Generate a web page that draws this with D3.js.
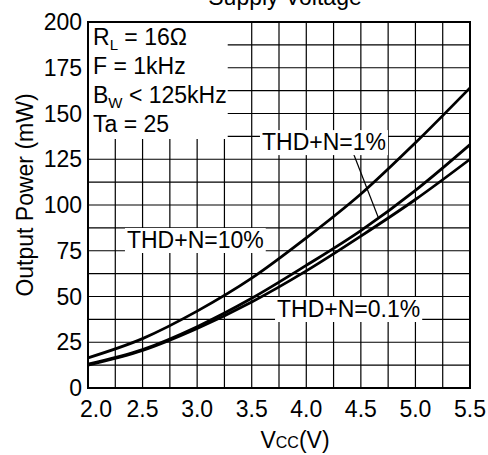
<!DOCTYPE html>
<html><head><meta charset="utf-8">
<script src="https://cdn.jsdelivr.net/npm/d3@7/dist/d3.min.js"></script>
<style>
html,body{margin:0;padding:0;background:#fff;}
svg{display:block;font-family:"Liberation Sans",Arial,sans-serif;}
</style></head>
<body>
<svg id="chart" width="488" height="455"></svg>
<script>
// ---- data ----
const volts  = [2.0, 2.5, 3.0, 3.5, 4.0, 4.5, 5.0, 5.5];
const thd10  = [16.5, 27, 42, 60, 82, 106, 134, 164];
const thd1   = [13, 21, 33.5, 49, 67, 86, 108, 133];
const thd01  = [12.5, 20.5, 32.5, 47, 64, 83, 103, 125];
const xTicks = [2.0, 2.5, 3.0, 3.5, 4.0, 4.5, 5.0, 5.5];
const yTicks = [0, 25, 50, 75, 100, 125, 150, 175, 200];
const xTickLabels = ["2.0","2.5","3.0","3.5","4.0","4.5","5.0","5.5"];
const curveLabels = [
  {text:"THD+N=10%", v:2.357, p:76.5},
  {text:"THD+N=1%",  v:3.594, p:130},
  {text:"THD+N=0.1%",v:3.732, p:38.8}
];
const leader = [{v:4.43, p:128.4},{v:4.658, p:93.4}];
const conditions = ["R|L| = 16Ω", "F = 1kHz", "B|W| < 125kHz", "Ta = 25"];

// ---- layout ----
const svg = d3.select("#chart");
const L = 88, R = 470, T = 22, B = 388;
const x = d3.scaleLinear().domain([2.0, 5.5]).range([L, R]);
const y = d3.scaleLinear().domain([0, 200]).range([B, T]);
const FS = 23;

// grid
const g = svg.append("g");
g.selectAll(".vg").data(d3.range(2.25, 5.5, 0.25)).join("line")
  .attr("x1", d=>x(d)).attr("x2", d=>x(d)).attr("y1", T).attr("y2", B)
  .attr("stroke", "#000").attr("stroke-width", 1.2);
g.selectAll(".hg").data(d3.range(12.5, 200, 12.5)).join("line")
  .attr("x1", L).attr("x2", R).attr("y1", d=>y(d)).attr("y2", d=>y(d))
  .attr("stroke", "#000").attr("stroke-width", 1.2);

// curves
const line = d3.line().x((d,i)=>x(volts[i])).y(d=>y(d)).curve(d3.curveMonotoneX);
[thd10, thd1, thd01].forEach(s=>{
  svg.append("path").attr("d", line(s)).attr("fill","none")
    .attr("stroke","#000").attr("stroke-width",2.8);
});

// leader line
svg.append("line")
  .attr("x1", x(leader[0].v)).attr("y1", y(leader[0].p))
  .attr("x2", x(leader[1].v)).attr("y2", y(leader[1].p))
  .attr("stroke","#000").attr("stroke-width",1.2);

// curve labels with white background
curveLabels.forEach(c=>{
  const gg = svg.append("g");
  const t = gg.append("text").attr("x", x(c.v)).attr("y", y(c.p))
    .attr("font-size", FS).text(c.text);
  const bb = t.node().getBBox();
  gg.insert("rect","text").attr("x", bb.x-2).attr("y", bb.y+1)
    .attr("width", bb.width+4).attr("height", bb.height-1).attr("fill","#fff");
});

// conditions box
const cg = svg.append("g");
const texts = [];
conditions.forEach((c,i)=>{
  const parts = c.split("|");
  const t = cg.append("text").attr("x", L+5).attr("y", T+23 + i*29).attr("font-size", FS);
  t.append("tspan").text(parts[0]);
  if (parts.length > 1) {
    t.append("tspan").attr("font-size", 15).attr("dy", 5).text(parts[1]);
    t.append("tspan").attr("dy", -5).text(parts[2]);
  }
  texts.push(t);
});
let maxR = 0;
texts.forEach(t=>{const b=t.node().getBBox(); maxR=Math.max(maxR,b.x+b.width);});
const lastB = texts[texts.length-1].node().getBBox();
cg.insert("rect","text").attr("x", L).attr("y", T)
  .attr("width", maxR - L + 1).attr("height", lastB.y + lastB.height - T + 2)
  .attr("fill","#fff");

// frame
svg.append("rect").attr("x", L).attr("y", T).attr("width", R-L).attr("height", B-T)
  .attr("fill","none").attr("stroke","#000").attr("stroke-width",2);

// y tick labels
svg.selectAll(".yl").data(yTicks).join("text")
  .attr("x", L-6).attr("y", d=>y(d)+8).attr("text-anchor","end")
  .attr("font-size", FS).text(d=>d);

// x tick labels
svg.selectAll(".xl").data(xTicks).join("text")
  .attr("x", (d,i)=>x(d) + (i===0 ? 8 : 0)).attr("y", 417).attr("text-anchor","middle")
  .attr("font-size", FS).text((d,i)=>xTickLabels[i]);

// x title
const xt = svg.append("text").attr("x", 295).attr("y", 448).attr("text-anchor","middle").attr("font-size", FS);
xt.append("tspan").text("V");
xt.append("tspan").attr("font-size", 16).text("CC");
xt.append("tspan").text("(V)");

// y title
svg.append("text").attr("transform","translate(33,195) rotate(-90)")
  .attr("text-anchor","middle").attr("font-size", FS).text("Output Power (mW)");

// chart title (cut at top)
svg.append("text").attr("x", 285).attr("y", 5).attr("text-anchor","middle")
  .attr("font-size", FS).text("Supply Voltage");
</script>
</body></html>
